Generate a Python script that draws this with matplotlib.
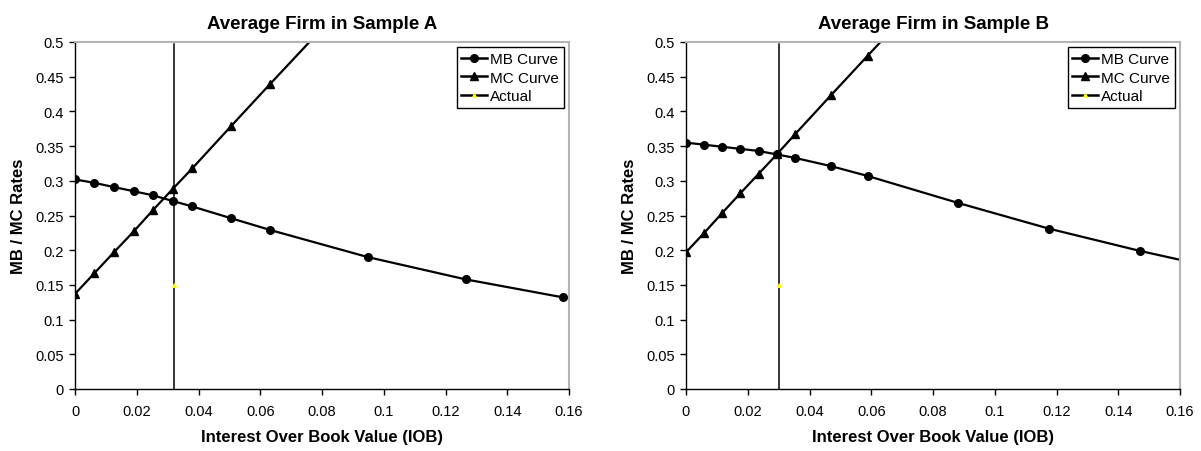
import numpy as np
import matplotlib
matplotlib.use('Agg')
import matplotlib.pyplot as plt
from matplotlib.ticker import FormatStrFormatter, MultipleLocator

plt.rcParams['font.family'] = ['Liberation Sans', 'DejaVu Sans']

# sample A (points beyond the axes limits are clipped like in the original)
mb_x_a = [0, 0.0063, 0.0126, 0.019, 0.0253, 0.0316, 0.038, 0.0506, 0.0633, 0.0949, 0.1265, 0.1581, 0.1897]
mb_y_a = [0.302, 0.297, 0.291, 0.285, 0.279, 0.271, 0.263, 0.246, 0.229, 0.190, 0.158, 0.132, 0.112]
mc_x_a = [0, 0.0063, 0.0126, 0.019, 0.0253, 0.0316, 0.038, 0.0506, 0.0633, 0.0949]
mc_y_a = [0.137, 0.167, 0.197, 0.227, 0.258, 0.288, 0.318, 0.379, 0.440, 0.59]
actual_a = 0.0322

# sample B
mb_x_b = [0, 0.0059, 0.0118, 0.0176, 0.0235, 0.0294, 0.0353, 0.0471, 0.0588, 0.0882, 0.1176, 0.147, 0.1764]
mb_y_b = [0.355, 0.352, 0.349, 0.346, 0.343, 0.338, 0.333, 0.321, 0.307, 0.268, 0.231, 0.199, 0.170]
mc_x_b = [0, 0.0059, 0.0118, 0.0176, 0.0235, 0.0294, 0.0353, 0.0471, 0.0588, 0.0882]
mc_y_b = [0.197, 0.225, 0.254, 0.282, 0.310, 0.338, 0.367, 0.424, 0.480, 0.62]
actual_b = 0.0302

actual_y = [0, 0.15, 0.497]


def makePanel(ax, title, mb_x, mb_y, mc_x, mc_y, actual_x):
    ax.plot(mb_x, mb_y, color='black', lw=1.6, marker='o', ms=5.5, label='MB Curve')
    ax.plot(mc_x, mc_y, color='black', lw=1.6, marker='^', ms=6, label='MC Curve')
    ax.plot([actual_x] * len(actual_y), actual_y, color='black', lw=1.1,
            marker='^', ms=2.5, mfc='#ffff00', mec='#ffff00', markevery=[1], label='Actual')

    ax.set_xlim(0, 0.16)
    ax.set_ylim(0, 0.5)
    ax.xaxis.set_major_locator(MultipleLocator(0.02))
    ax.yaxis.set_major_locator(MultipleLocator(0.05))
    ax.xaxis.set_major_formatter(FormatStrFormatter('%g'))
    ax.yaxis.set_major_formatter(FormatStrFormatter('%g'))
    ax.tick_params(direction='out', length=4, width=1, labelsize=10.5, color='black')
    ax.tick_params(axis='x', pad=7)
    ax.tick_params(axis='y', pad=4)

    for s in ['top', 'right']:
        ax.spines[s].set_color('#b4b4b4')
        ax.spines[s].set_linewidth(1.5)
    for s in ['left', 'bottom']:
        ax.spines[s].set_color('black')
        ax.spines[s].set_linewidth(1)

    ax.set_title(title, fontsize=13.5, fontweight='bold', pad=10)
    ax.set_xlabel('Interest Over Book Value (IOB)', fontsize=12, fontweight='bold', labelpad=8)
    ax.set_ylabel('MB / MC Rates', fontsize=12, fontweight='bold', labelpad=7)

    leg = ax.legend(loc='upper right', fontsize=11, fancybox=False, framealpha=1,
                    edgecolor='black', handlelength=1.7, handletextpad=0.2,
                    labelspacing=0.3, borderpad=0.3, borderaxespad=0.35)
    leg.get_frame().set_linewidth(1)
    for line in leg.get_lines():
        line.set_linewidth(1.8)


if __name__ == '__main__':
    fig = plt.figure(figsize=(12.01, 4.52), dpi=100)
    ax_a = fig.add_axes([75 / 1201, 62 / 452, 494 / 1201, 347 / 452])
    ax_b = fig.add_axes([686 / 1201, 62 / 452, 494 / 1201, 347 / 452])
    makePanel(ax_a, 'Average Firm in Sample A', mb_x_a, mb_y_a, mc_x_a, mc_y_a, actual_a)
    makePanel(ax_b, 'Average Firm in Sample B', mb_x_b, mb_y_b, mc_x_b, mc_y_b, actual_b)
    fig.savefig('out.png', dpi=100)
